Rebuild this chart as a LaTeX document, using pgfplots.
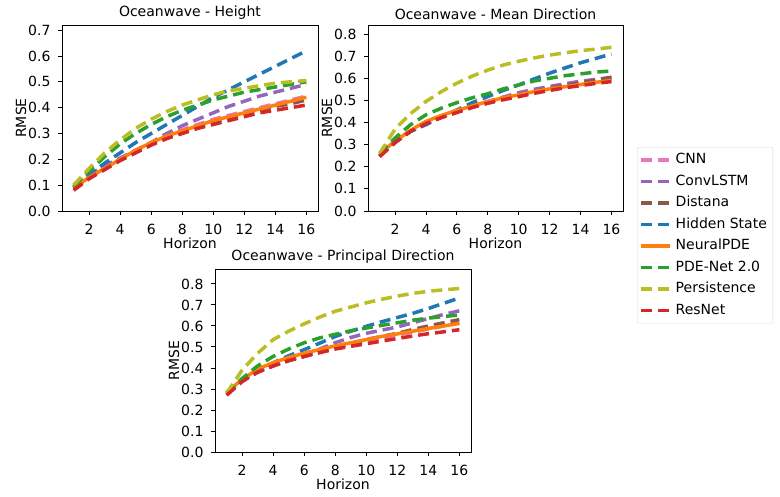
\documentclass[border=0pt]{standalone}
\usepackage{fontspec}
\setmainfont{DejaVu Sans}
\usepackage{pgfplots}
\pgfplotsset{compat=1.18}

\definecolor{cnnC}{HTML}{E377C2}
\definecolor{lstmC}{HTML}{9467BD}
\definecolor{distC}{HTML}{8C564B}
\definecolor{hidC}{HTML}{1F77B4}
\definecolor{npdeC}{HTML}{FF7F0E}
\definecolor{pdeC}{HTML}{2CA02C}
\definecolor{persC}{HTML}{BCBD22}
\definecolor{resC}{HTML}{D62728}

\newcommand{\fs}{\fontsize{14}{16}\selectfont}

\tikzset{
  dsh/.style={line width=3.5pt, dash pattern=on 11pt off 6pt},
  cnn/.style={dsh, cnnC}, lstm/.style={dsh, lstmC}, dist/.style={dsh, distC},
  hid/.style={dsh, hidC}, npde/.style={line width=3.5pt, npdeC},
  pde/.style={dsh, pdeC}, pers/.style={dsh, persC}, res/.style={dsh, resC},
}

\pgfplotsset{
  ow/.style={
    scale only axis, anchor=south west,
    xmin=0.25, xmax=16.75, ymin=0,
    xtick={2,4,...,16}, ytick distance=0.1,
    tick align=outside, tick pos=left,
    major tick length=4pt,
    every tick/.style={black, line width=0.9pt},
    axis line style={line width=0.9pt},
    /pgf/number format/assume math mode=true,
    tick label style={font=\fs},
    xticklabel style={yshift=-6pt},
    yticklabel style={xshift=-4pt, /pgf/number format/.cd, fixed, fixed zerofill, precision=1},
    title style={font=\fs, yshift=-4pt},
    label style={font=\fs},
    xlabel={Horizon}, ylabel={RMSE},
    xlabel style={yshift=4pt}, ylabel style={yshift=-5pt},
    no markers,
  },
}

\begin{document}
\begin{tikzpicture}
\useasboundingbox (0,0) rectangle (780pt,497pt);

% Height
\begin{axis}[ow, at={(62pt,286pt)}, width=256pt, height=186pt, ymax=0.72,
  title={Oceanwave - Height}]
\addplot[cnn] table {
1 0.09
2 0.13
3 0.165
4 0.20
5 0.235
6 0.265
7 0.29
8 0.315
9 0.335
10 0.355
11 0.37
12 0.385
13 0.40
14 0.415
15 0.43
16 0.445
};
\addplot[lstm] table {
1 0.10
2 0.14
3 0.175
4 0.205
5 0.235
6 0.265
7 0.30
8 0.33
9 0.355
10 0.38
11 0.405
12 0.425
13 0.445
14 0.46
15 0.475
16 0.49
};
\addplot[dist] table {
1 0.085
2 0.13
3 0.165
4 0.20
5 0.23
6 0.26
7 0.285
8 0.305
9 0.325
10 0.34
11 0.36
12 0.375
13 0.39
14 0.405
15 0.415
16 0.43
};
\addplot[hid] table {
1 0.09
2 0.14
3 0.185
4 0.225
5 0.265
6 0.30
7 0.335
8 0.37
9 0.405
10 0.44
11 0.47
12 0.50
13 0.53
14 0.56
15 0.59
16 0.62
};
\addplot[npde] table {
1 0.09
2 0.13
3 0.165
4 0.20
5 0.235
6 0.265
7 0.29
8 0.31
9 0.33
10 0.35
11 0.365
12 0.38
13 0.395
14 0.41
15 0.425
16 0.44
};
\addplot[pde] table {
1 0.095
2 0.155
3 0.21
4 0.26
5 0.30
6 0.335
7 0.365
8 0.39
9 0.41
10 0.43
11 0.445
12 0.46
13 0.47
14 0.48
15 0.49
16 0.50
};
\addplot[pers] table {
1 0.10
2 0.165
3 0.225
4 0.275
5 0.32
6 0.355
7 0.385
8 0.41
9 0.43
10 0.45
11 0.465
12 0.475
13 0.485
14 0.495
15 0.50
16 0.505
};
\addplot[res] table {
1 0.08
2 0.125
3 0.16
4 0.195
5 0.225
6 0.255
7 0.28
8 0.30
9 0.32
10 0.335
11 0.35
12 0.365
13 0.38
14 0.39
15 0.40
16 0.41
};
\end{axis}

% Mean direction
\begin{axis}[ow, at={(368pt,286pt)}, width=255pt, height=186pt, ymax=0.841,
  title={Oceanwave - Mean Direction},
  legend cell align=left,
  legend image code/.code={\draw[#1] (0pt,0pt) -- (29pt,0pt);},
  legend style={at={(1.055,0.344)}, anchor=north west,
    draw=black!15, rounded corners=2pt, fill=white,
    font=\fs, row sep=0pt,
    inner xsep=2pt, inner ysep=2pt,
    nodes={inner sep=4pt, text height=10.5pt, text depth=3pt}},
  ]
\addplot[cnn] table {
1 0.25
2 0.31
3 0.36
4 0.395
5 0.425
6 0.45
7 0.473
8 0.493
9 0.512
10 0.528
11 0.543
12 0.556
13 0.568
14 0.58
15 0.59
16 0.60
};
\addlegendentry{CNN}
\addplot[lstm] table {
1 0.25
2 0.31
3 0.36
4 0.395
5 0.425
6 0.45
7 0.475
8 0.495
9 0.515
10 0.535
11 0.55
12 0.563
13 0.575
14 0.587
15 0.595
16 0.603
};
\addlegendentry{ConvLSTM}
\addplot[dist] table {
1 0.25
2 0.31
3 0.36
4 0.397
5 0.425
6 0.45
7 0.472
8 0.492
9 0.51
10 0.525
11 0.54
12 0.555
13 0.568
14 0.58
15 0.592
16 0.605
};
\addlegendentry{Distana}
\addplot[hid] table {
1 0.25
2 0.32
3 0.36
4 0.39
5 0.425
6 0.457
7 0.49
8 0.517
9 0.545
10 0.57
11 0.597
12 0.623
13 0.647
14 0.67
15 0.69
16 0.71
};
\addlegendentry{Hidden State}
\addplot[npde] table {
1 0.26
2 0.315
3 0.365
4 0.405
5 0.432
6 0.455
7 0.475
8 0.495
9 0.512
10 0.525
11 0.54
12 0.552
13 0.562
14 0.572
15 0.582
16 0.59
};
\addlegendentry{NeuralPDE}
\addplot[pde] table {
1 0.26
2 0.33
3 0.39
4 0.435
5 0.465
6 0.49
7 0.512
8 0.53
9 0.552
10 0.57
11 0.588
12 0.60
13 0.612
14 0.62
15 0.628
16 0.633
};
\addlegendentry{PDE-Net 2.0}
\addplot[pers] table {
1 0.26
2 0.37
3 0.44
4 0.495
5 0.54
6 0.578
7 0.61
8 0.637
9 0.66
10 0.677
11 0.692
12 0.705
13 0.715
14 0.725
15 0.732
16 0.74
};
\addlegendentry{Persistence}
\addplot[res] table {
1 0.245
2 0.31
3 0.36
4 0.395
5 0.422
6 0.445
7 0.468
8 0.487
9 0.503
10 0.517
11 0.532
12 0.545
13 0.557
14 0.567
15 0.577
16 0.585
};
\addlegendentry{ResNet}
\end{axis}

% Principal direction
\begin{axis}[ow, at={(215pt,45pt)}, width=256pt, height=183pt, ymax=0.871,
  title={Oceanwave - Principal Direction}]
\addplot[cnn] table {
1 0.275
2 0.34
3 0.38
4 0.41
5 0.435
6 0.455
7 0.475
8 0.495
9 0.51
10 0.527
11 0.542
12 0.557
13 0.57
14 0.585
15 0.60
16 0.615
};
\addplot[lstm] table {
1 0.28
2 0.34
3 0.385
4 0.41
5 0.44
6 0.46
7 0.49
8 0.52
9 0.545
10 0.565
11 0.58
12 0.595
13 0.615
14 0.635
15 0.655
16 0.672
};
\addplot[dist] table {
1 0.275
2 0.34
3 0.38
4 0.41
5 0.435
6 0.455
7 0.475
8 0.495
9 0.515
10 0.535
11 0.55
12 0.565
13 0.583
14 0.60
15 0.615
16 0.63
};
\addplot[hid] table {
1 0.28
2 0.34
3 0.39
4 0.425
5 0.458
6 0.487
7 0.518
8 0.55
9 0.575
10 0.598
11 0.62
12 0.64
13 0.66
14 0.683
15 0.708
16 0.733
};
\addplot[npde] table {
1 0.285
2 0.345
3 0.395
4 0.425
5 0.45
6 0.47
7 0.488
8 0.505
9 0.52
10 0.535
11 0.55
12 0.562
13 0.575
14 0.588
15 0.60
16 0.612
};
\addplot[pde] table {
1 0.28
2 0.35
3 0.41
4 0.455
5 0.49
6 0.52
7 0.543
8 0.56
9 0.577
10 0.59
11 0.603
12 0.615
13 0.627
14 0.637
15 0.645
16 0.652
};
\addplot[pers] table {
1 0.28
2 0.39
3 0.47
4 0.535
5 0.575
6 0.61
7 0.642
8 0.67
9 0.69
10 0.71
11 0.727
12 0.742
13 0.755
14 0.765
15 0.772
16 0.778
};
\addplot[res] table {
1 0.27
2 0.335
3 0.38
4 0.41
5 0.435
6 0.455
7 0.473
8 0.49
9 0.503
10 0.515
11 0.528
12 0.54
13 0.552
14 0.563
15 0.572
16 0.582
};
\end{axis}
\end{tikzpicture}
\end{document}
